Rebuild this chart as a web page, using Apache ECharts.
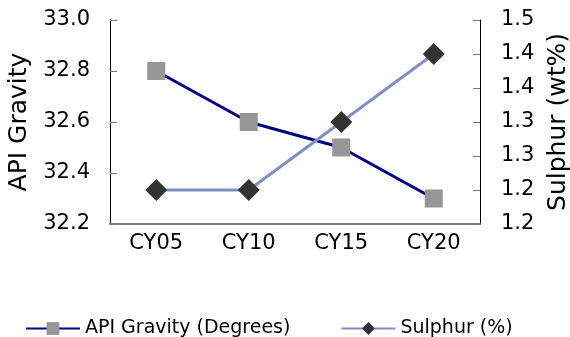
<!DOCTYPE html>
<html>
<head>
<meta charset="utf-8">
<script src="https://cdn.jsdelivr.net/npm/echarts@6/dist/echarts.min.js"></script>
<style>html,body{margin:0;padding:0;background:#fff}#c{width:570px;height:337px}</style>
</head>
<body>
<div id="c"></div>
<script>
var categories = ['CY05', 'CY10', 'CY15', 'CY20'];
var apiGravity = [32.8, 32.6, 32.5, 32.3];
var sulphur = [1.25, 1.25, 1.35, 1.45];
var seriesNames = ['API Gravity (Degrees)', 'Sulphur (%)'];
var axisNames = ['API Gravity', 'Sulphur (wt%)'];

var font = 'DejaVu Sans, sans-serif';
var chart = echarts.init(document.getElementById('c'));
chart.setOption({
  animation: false,
  textStyle: {fontFamily: font},
  grid: {left: 110, right: 90, top: 20, bottom: 113, containLabel: false, outerBoundsMode: 'none'},
  legend: {
    top: 314, left: 20, itemGap: 50, itemWidth: 54, itemHeight: 16,
    textStyle: {fontSize: 19, color: '#000', fontFamily: font},
    data: seriesNames
  },
  xAxis: {
    type: 'category', data: categories,
    axisLine: {lineStyle: {color: '#7f7f7f', width: 2}},
    axisTick: {inside: true, length: 7, lineStyle: {color: '#000'}},
    axisLabel: {fontSize: 21, color: '#000', margin: 9}
  },
  yAxis: [{
    type: 'value', min: 32.2, max: 33.0, interval: 0.2,
    name: axisNames[0], nameLocation: 'middle', nameGap: 62, nameRotate: 90,
    nameTextStyle: {fontSize: 25, color: '#000'},
    axisLine: {show: true, lineStyle: {color: '#000'}},
    axisTick: {show: true, inside: true, length: 7, lineStyle: {color: '#777'}},
    splitLine: {show: false},
    axisLabel: {fontSize: 21, color: '#000', margin: 20, formatter: function (v) { return v.toFixed(1); }}
  }, {
    type: 'value', min: 1.2, max: 1.5, interval: 0.05,
    name: axisNames[1], nameLocation: 'middle', nameGap: 66, nameRotate: 90,
    nameTextStyle: {fontSize: 25, color: '#000'},
    axisLine: {show: true, lineStyle: {color: '#000'}},
    axisTick: {show: true, inside: true, length: 7, lineStyle: {color: '#777'}},
    splitLine: {show: false},
    axisLabel: {fontSize: 21, color: '#000', margin: 21, formatter: function (v) { return (Math.floor(v * 10 + 1e-6) / 10).toFixed(1); }}
  }],
  series: [{
    name: seriesNames[0], type: 'line', yAxisIndex: 0, data: apiGravity,
    symbol: 'rect', symbolSize: 18,
    lineStyle: {color: '#000080', width: 3},
    itemStyle: {color: '#969696'}
  }, {
    name: seriesNames[1], type: 'line', yAxisIndex: 1, data: sulphur,
    symbol: 'diamond', symbolSize: 22,
    lineStyle: {color: '#7f8fc4', width: 3},
    itemStyle: {color: '#333333'}
  }]
});
</script>
</body>
</html>
